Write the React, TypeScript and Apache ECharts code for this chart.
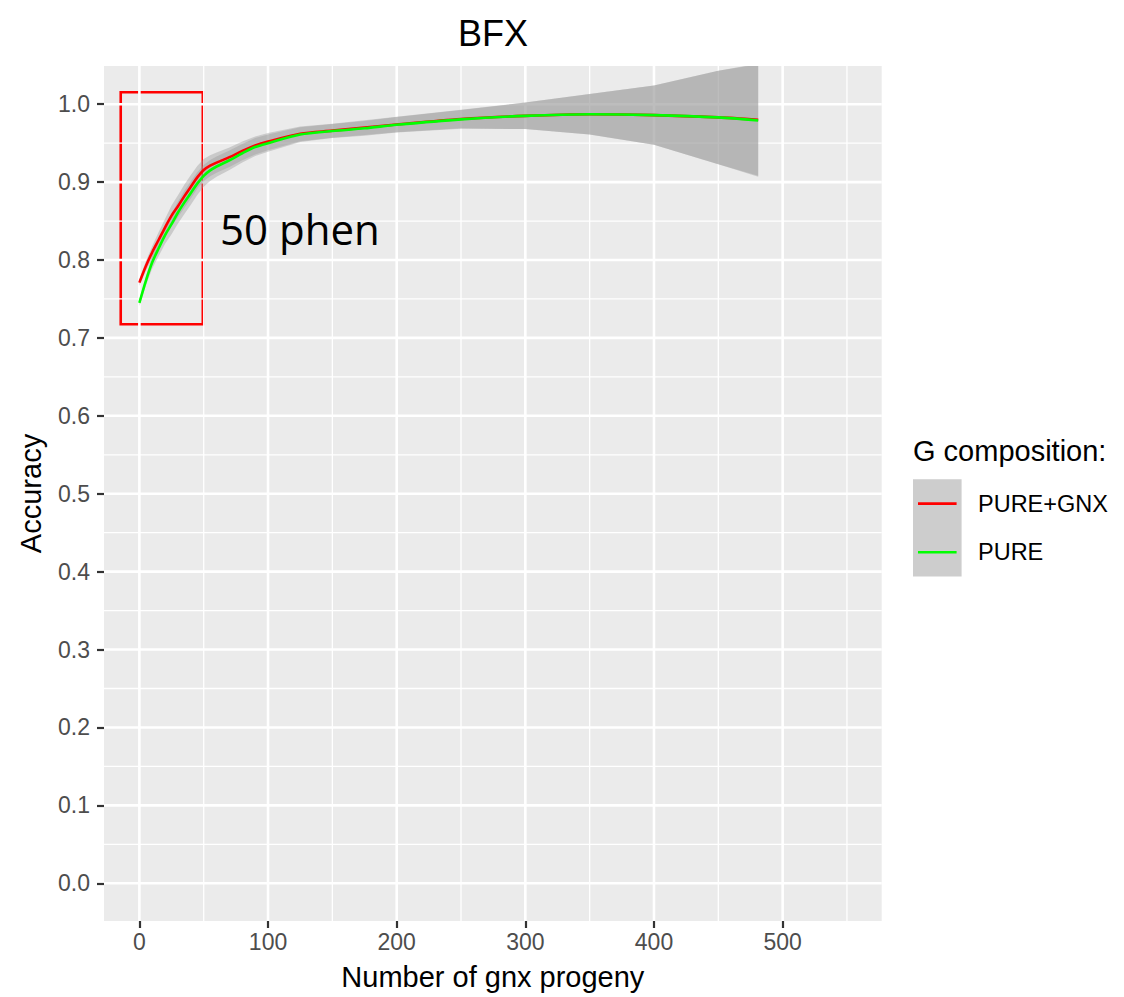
import React, { useEffect, useRef } from "react";
import * as echarts from "echarts";

// ---- data ----
const progeny = [0, 5, 10, 15, 20, 25, 30, 35, 40, 45, 50, 55, 60, 70, 80, 90, 100, 125, 150, 175, 200, 250, 300, 350, 400, 450, 481];
const accPureGnx = [0.771, 0.792, 0.810, 0.826, 0.842, 0.857, 0.869, 0.882, 0.894, 0.906, 0.9155, 0.921, 0.925, 0.932, 0.940, 0.947, 0.952, 0.962, 0.966, 0.970, 0.974, 0.981, 0.985, 0.987, 0.986, 0.983, 0.980];
const accPure = [0.745, 0.773, 0.797, 0.815, 0.832, 0.846, 0.861, 0.874, 0.886, 0.898, 0.908, 0.915, 0.920, 0.928, 0.937, 0.945, 0.950, 0.961, 0.9655, 0.969, 0.9735, 0.9805, 0.985, 0.987, 0.986, 0.983, 0.979];
// half width of the confidence band (standard-error ribbon)
const seBand = [0.004, 0.006, 0.008, 0.010, 0.011, 0.013, 0.014, 0.015, 0.015, 0.0145, 0.014, 0.0135, 0.013, 0.0125, 0.012, 0.0115, 0.011, 0.0095, 0.009, 0.0095, 0.010, 0.012, 0.017, 0.026, 0.038, 0.060, 0.072];

const xTicks = [0, 100, 200, 300, 400, 500];
const xMinor = [50, 150, 250, 350, 450, 550];
const yTicks = [0, 0.1, 0.2, 0.3, 0.4, 0.5, 0.6, 0.7, 0.8, 0.9, 1.0];
const yMinor = [0.05, 0.15, 0.25, 0.35, 0.45, 0.55, 0.65, 0.75, 0.85, 0.95];

const seriesNames = ["PURE+GNX", "PURE"];
const seriesColors = ["#ff0000", "#00ff00"];

// annotation box (data coordinates) and its label
const boxCorners = [[-14.5, 1.0154], [49.3, 0.7176]];
const annotationText = "50 phen";

const FONT = "'Liberation Sans', Arial, sans-serif";

function buildOption() {
  const pairs = (ys: number[]) => progeny.map((x, i) => [x, ys[i]]);

  const gridSeries = (vertical: boolean) => ({
    type: "custom",
    coordinateSystem: "cartesian2d",
    silent: true,
    z: 1,
    data: vertical
      ? [...xTicks.map((v) => [v, 0, 1]), ...xMinor.map((v) => [v, 0, 0])]
      : [...yTicks.map((v) => [0, v, 1]), ...yMinor.map((v) => [0, v, 0])],
    encode: { x: 0, y: 1 },
    renderItem: (params: any, api: any) => {
      const cs = params.coordSys;
      const p = api.coord([api.value(0), api.value(1)]);
      const major = api.value(2) === 1;
      const shape = vertical
        ? { x1: p[0], y1: cs.y, x2: p[0], y2: cs.y + cs.height }
        : { x1: cs.x, y1: p[1], x2: cs.x + cs.width, y2: p[1] };
      return {
        type: "line",
        shape,
        style: { stroke: "#ffffff", lineWidth: major ? 2.6 : 1.3 },
      };
    },
  });

  const ribbon = (ys: number[]) => ({
    type: "custom",
    coordinateSystem: "cartesian2d",
    silent: true,
    clip: true,
    z: 2,
    data: [[progeny[0], ys[0]]],
    encode: { x: 0, y: 1 },
    renderItem: (params: any, api: any) => {
      const upper = progeny.map((x, i) => api.coord([x, ys[i] + seBand[i]]));
      const lower = progeny.map((x, i) => api.coord([x, ys[i] - seBand[i]])).reverse();
      return {
        type: "polygon",
        shape: { points: upper.concat(lower) },
        style: { fill: "rgba(153,153,153,0.4)" },
      };
    },
  });

  const lineSeries = (ys: number[], idx: number, extra: any = {}) => ({
    type: "line",
    name: seriesNames[idx],
    data: pairs(ys),
    smooth: 0.3,
    showSymbol: false,
    z: 3 + idx,
    lineStyle: { color: seriesColors[idx], width: 2.6 },
    itemStyle: { color: seriesColors[idx] },
    ...extra,
  });

  const legendX = 913;
  const keyW = 48.6;
  const keyTop = 479.3;

  return {
    animation: false,
    backgroundColor: "#ffffff",
    title: {
      text: "BFX",
      left: 488,
      top: 10,
      textAlign: "center",
      textStyle: { fontSize: 36, fontWeight: "normal", color: "#000000", fontFamily: FONT },
    },
    grid: {
      left: 104,
      top: 66,
      right: 1124 - 881.7,
      bottom: 997 - 921,
      show: true,
      backgroundColor: "#ebebeb",
      borderWidth: 0,
      containLabel: false,
    },
    xAxis: {
      type: "value",
      min: -27.5,
      max: 577,
      axisLine: { show: false, onZero: false },
      axisTick: {
        show: true,
        length: 7,
        customValues: xTicks,
        lineStyle: { color: "#333333", width: 2.2 },
      },
      axisLabel: {
        customValues: xTicks,
        margin: 9,
        fontSize: 23,
        color: "#4d4d4d",
        fontFamily: FONT,
      },
      splitLine: { show: false },
      name: "Number of gnx progeny",
      nameLocation: "middle",
      nameGap: 41,
      nameTextStyle: { fontSize: 29, color: "#000000", fontFamily: FONT },
    },
    yAxis: {
      type: "value",
      min: -0.0484,
      max: 1.049,
      axisLine: { show: false, onZero: false },
      axisTick: {
        show: true,
        length: 7,
        customValues: yTicks,
        lineStyle: { color: "#333333", width: 2.2 },
      },
      axisLabel: {
        customValues: yTicks,
        margin: 14,
        fontSize: 23,
        color: "#4d4d4d",
        fontFamily: FONT,
        formatter: (v: number) => v.toFixed(1),
      },
      splitLine: { show: false },
      name: "Accuracy",
      nameLocation: "middle",
      nameGap: 59,
      nameRotate: 90,
      nameTextStyle: { fontSize: 29, color: "#000000", fontFamily: FONT },
    },
    series: [
      gridSeries(true),
      gridSeries(false),
      ribbon(accPureGnx),
      ribbon(accPure),
      lineSeries(accPureGnx, 0),
      lineSeries(accPure, 1, {
        markArea: {
          silent: true,
          itemStyle: {
            color: "rgba(0,0,0,0)",
            borderColor: "#ff0000",
            borderWidth: 2.6,
          },
          data: [[{ coord: boxCorners[0] }, { coord: boxCorners[1] }]],
        },
      }),
    ],
    graphic: [
      {
        type: "text",
        x: 220,
        y: 228,
        z: 10,
        style: {
          text: annotationText,
          fontSize: 42,
          fontFamily: "'Open Sans', 'Noto Sans', sans-serif",
          fill: "#000000",
          verticalAlign: "middle",
          align: "left",
        },
      },
      {
        type: "text",
        x: legendX,
        y: 451,
        style: {
          text: "G composition:",
          fontSize: 29,
          fontFamily: FONT,
          fill: "#000000",
          verticalAlign: "middle",
          align: "left",
        },
      },
      ...seriesNames.flatMap((name, i) => {
        const cy = keyTop + keyW * i + keyW / 2;
        return [
          {
            type: "rect",
            shape: { x: legendX, y: keyTop + keyW * i, width: keyW, height: keyW },
            style: { fill: "#cdcdcd" },
          },
          {
            type: "line",
            shape: { x1: legendX + 5, y1: cy, x2: legendX + keyW - 5, y2: cy },
            style: { stroke: seriesColors[i], lineWidth: 2.6 },
          },
          {
            type: "text",
            x: 978,
            y: cy,
            style: {
              text: name,
              fontSize: 23.5,
              fontFamily: FONT,
              fill: "#000000",
              verticalAlign: "middle",
              align: "left",
            },
          },
        ];
      }),
    ],
  };
}

export default function App() {
  const ref = useRef<HTMLDivElement>(null);
  useEffect(() => {
    document.body.style.margin = "0";
    const chart = echarts.init(ref.current as HTMLDivElement, undefined, { renderer: "svg" });
    chart.setOption(buildOption() as any);
    return () => {
      chart.dispose();
    };
  }, []);
  return (
    <div
      ref={ref}
      style={{ width: 1124, height: 997, position: "absolute", left: 0, top: 0, background: "#ffffff" }}
    />
  );
}
